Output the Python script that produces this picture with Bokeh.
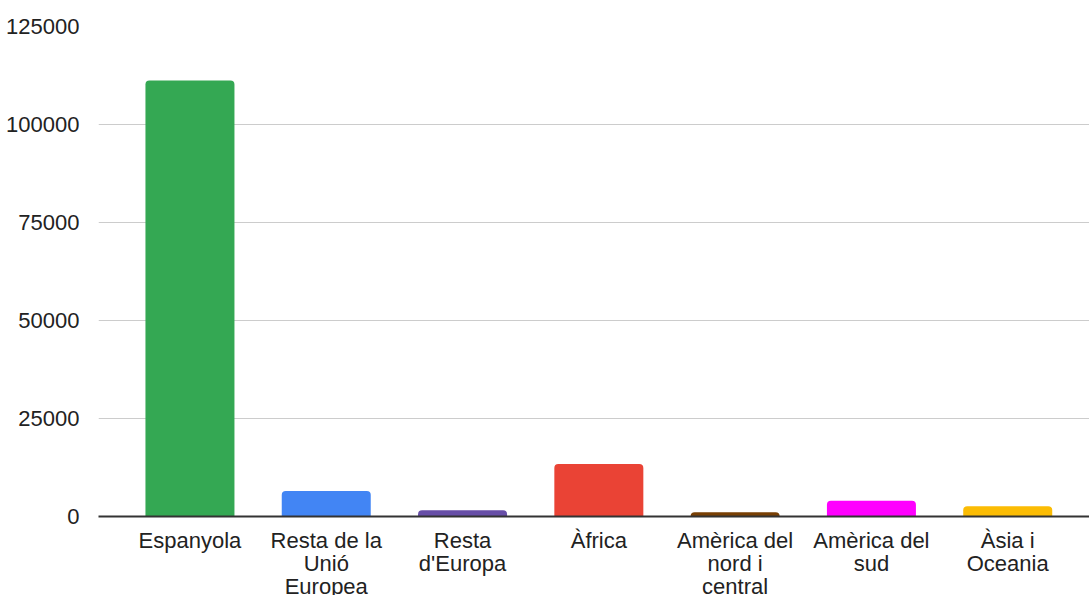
from bokeh.plotting import figure
from bokeh.models import Range1d, FixedTicker, BasicTickFormatter, ColumnDataSource
from bokeh.embed import file_html
from bokeh.resources import INLINE

categories = ["Espanyola", "Resta de la\nUnió\nEuropea", "Resta\nd'Europa", "Àfrica",
              "Amèrica del\nnord i\ncentral", "Amèrica del\nsud", "Àsia i\nOceania"]
values = [111200, 6500, 1600, 13400, 1100, 4000, 2600]
colors = ["#34a853", "#4285f4", "#674ea7", "#ea4335", "#783f04", "#ff00ff", "#fbbc04"]
y_ticks = [0, 25000, 50000, 75000, 100000, 125000]

xs = list(range(len(categories)))
src = ColumnDataSource(dict(x=xs, top=values, color=colors))

p = figure(frame_width=991, frame_height=490, output_backend="svg", toolbar_location=None,
           x_range=Range1d(-0.671, 6.600), y_range=Range1d(0, 125000),
           min_border_left=98, min_border_right=0, min_border_top=26, min_border_bottom=0)
p.outline_line_color = None
p.background_fill_color = "white"

p.vbar(x="x", top="top", width=0.653, bottom=0, fill_color="color", line_color=None,
       source=src, border_radius=(4, 4, 0, 0))

font = "Liberation Sans"
# y axis
p.yaxis.ticker = FixedTicker(ticks=y_ticks)
p.yaxis.formatter = BasicTickFormatter(use_scientific=False)
p.yaxis.axis_line_color = None
p.yaxis.major_tick_line_color = None
p.yaxis.minor_tick_line_color = None
p.yaxis.major_label_text_font = font
p.yaxis.major_label_text_font_size = "22px"
p.yaxis.major_label_text_color = "#222222"
p.yaxis.major_label_standoff = 13

# x axis
p.xaxis.ticker = FixedTicker(ticks=xs)
p.xaxis.major_label_overrides = {i: c for i, c in zip(xs, categories)}
p.xaxis.axis_line_color = "#333333"
p.xaxis.axis_line_width = 2
p.xaxis.major_tick_line_color = None
p.xaxis.minor_tick_line_color = None
p.xaxis.major_label_text_font = font
p.xaxis.major_label_text_font_size = "22px"
p.xaxis.major_label_text_color = "#222222"
p.xaxis.major_label_text_line_height = 0.93
p.xaxis.major_label_standoff = 5

p.xgrid.grid_line_color = None
p.ygrid.grid_line_color = "#cccccc"
p.ygrid.grid_line_width = 1

open("out.html", "w").write(file_html(p, INLINE))
